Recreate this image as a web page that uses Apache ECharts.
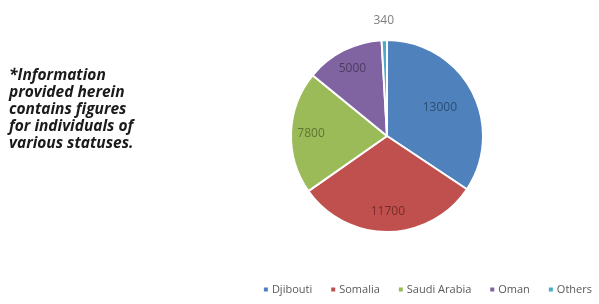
<!DOCTYPE html>
<html><head><meta charset="utf-8">
<script src="https://cdn.jsdelivr.net/npm/echarts@6/dist/echarts.min.js"></script>
<style>html,body{margin:0;padding:0;background:#fff}#c{width:599px;height:304px}</style>
</head><body><div id="c"></div>
<script>
var categories = ['Djibouti', 'Somalia', 'Saudi Arabia', 'Oman', 'Others'];
var values = [13000, 11700, 7800, 5000, 340];
var colors = ['#4F81BD', '#C0504D', '#9BBB59', '#8064A2', '#4BACC6'];
var labelColors = ['#2c4d75', '#772c2a', '#5f7530', '#4d3b62', '#7f7f7f'];
var note = '*Information\nprovided herein\ncontains figures\nfor individuals of\nvarious statuses.';

var chart = echarts.init(document.getElementById('c'));
var C = ['387', '136'];
function dataFor(showIdx) {
  return categories.map(function (n, i) {
    return {
      name: n, value: values[i],
      label: { show: showIdx.indexOf(i) >= 0, color: labelColors[i] }
    };
  });
}
var labelBase = { position: 'inside', formatter: '{c}', fontSize: 12, fontFamily: 'Open Sans, sans-serif' };
function overlay(r, idx) {
  return {
    type: 'pie', center: C, radius: [0, r], startAngle: 90, clockwise: true,
    silent: true, legendHoverLink: false, avoidLabelOverlap: false,
    itemStyle: { color: 'rgba(0,0,0,0)' }, emphasis: { disabled: true },
    label: labelBase, labelLine: { show: false }, legendIcon: 'rect',
    data: dataFor(idx), z: 5
  };
}
chart.setOption({
  animation: false,
  color: colors,
  graphic: [{
    type: 'text', left: 9, top: 67,
    style: { text: note, font: 'italic bold 15.5px "Open Sans", sans-serif', fill: '#1a1a1a', lineHeight: 17 }
  }],
  legend: {
    data: categories, right: 2, bottom: 4, itemWidth: 6, itemHeight: 6, itemGap: 17,
    icon: 'rect',
    textStyle: { fontSize: 11, color: '#595959', fontFamily: 'Open Sans, sans-serif', padding: [0, 0, 0, -2] }
  },
  series: [
    {
      type: 'pie', center: C, radius: [0, 96], startAngle: 90, clockwise: true,
      itemStyle: { borderColor: '#fff', borderWidth: 2 }, legendIcon: 'rect',
      label: { show: false }, labelLine: { show: false },
      data: categories.map(function (n, i) { return { name: n, value: values[i] }; })
    },
    overlay(114, [0]),
    overlay(146, [1, 2, 3]),
    overlay(224, [4])
  ]
});
</script></body></html>
